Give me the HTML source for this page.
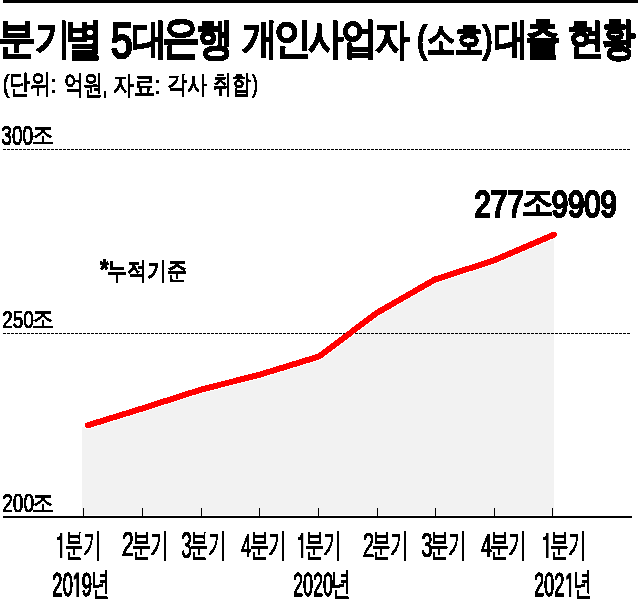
<!DOCTYPE html>
<html><head><meta charset="utf-8"><style>
html,body{margin:0;padding:0;background:#fff;width:638px;height:599px;overflow:hidden;position:relative}
span{display:block}
</style></head><body>
<svg width="638" height="599" style="position:absolute;left:0;top:0">
<rect x="3" y="0" width="635" height="3" fill="#000"/>
<polygon points="82,427.1 88,425.26 142,408.55 201,389.62 259,374.89 319,356.5 377,312.81 435,279.49 493,260.78 554,234.68 554,515 82,515" fill="#f2f2f2" shape-rendering="crispEdges"/>
<polyline points="88,425.26 142,408.55 201,389.62 259,374.89 319,356.5 377,312.81 435,279.49 493,260.78 554,234.68" fill="none" stroke="#fff" stroke-width="8" stroke-linecap="round" stroke-linejoin="round" shape-rendering="crispEdges"/>
<line x1="3" y1="149.5" x2="631" y2="149.5" stroke="#000" stroke-width="1" stroke-dasharray="3 1"/>
<line x1="3" y1="333.5" x2="631" y2="333.5" stroke="#000" stroke-width="1" stroke-dasharray="3 1"/>
<rect x="3" y="516" width="629" height="2" fill="#000"/>
<rect x="83" y="508" width="1" height="8" fill="#000"/><rect x="142" y="508" width="1" height="8" fill="#000"/><rect x="201" y="508" width="1" height="8" fill="#000"/><rect x="259" y="508" width="1" height="8" fill="#000"/><rect x="318" y="508" width="1" height="8" fill="#000"/><rect x="377" y="508" width="1" height="8" fill="#000"/><rect x="435" y="508" width="1" height="8" fill="#000"/><rect x="494" y="508" width="1" height="8" fill="#000"/><rect x="552" y="508" width="1" height="8" fill="#000"/>
<g fill="#000">
<rect x="60" y="533" width="2.2" height="25"/><rect x="57" y="537" width="3" height="3"/><rect x="59" y="536" width="1" height="1"/>
<rect x="301" y="533" width="2.2" height="25"/><rect x="298" y="537" width="3" height="3"/><rect x="300" y="535" width="1" height="2"/>
<rect x="546" y="533" width="2.5" height="25"/><rect x="543" y="537" width="3" height="3"/><rect x="545" y="536" width="1" height="1"/>
<polygon points="73.8,576.5 76.4,572.5 79,572.5 79,597 76.4,597 76.4,578.5 73.8,580"/>
<polygon points="566.2,576.5 569,573 571.1,573 571.1,597 569,597 569,578.5 566.2,580"/>
</g>
<polyline points="88,425.26 142,408.55 201,389.62 259,374.89 319,356.5 377,312.81 435,279.49 493,260.78 554,234.68" fill="none" stroke="#ff0000" stroke-width="6" stroke-linecap="round" stroke-linejoin="round" shape-rendering="crispEdges"/>
</svg>
<svg width="0" height="0" style="position:absolute"><filter id="crisp" x="0" y="0" width="100%" height="100%"><feComponentTransfer><feFuncA type="discrete" tableValues="0 1"/></feComponentTransfer></filter></svg>
<div style="position:absolute;left:0;top:0;width:638px;height:599px;filter:url(#crisp)">
<span style="position:absolute;left:0;top:0;font-family:'Liberation Sans', sans-serif;font-size:43.37px;font-weight:400;line-height:1;white-space:nowrap;color:#000;-webkit-text-stroke:2.6px #000;transform-origin:0 0;transform:matrix(0.8641,0,0,0.9900,-1.73,17.03)">분</span>
<span style="position:absolute;left:0;top:0;font-family:'Liberation Sans', sans-serif;font-size:42.8px;font-weight:400;line-height:1;white-space:nowrap;color:#000;-webkit-text-stroke:2.6px #000;transform-origin:0 0;transform:matrix(0.8314,0,0,0.9748,34.51,18.05)">기</span>
<span style="position:absolute;left:0;top:0;font-family:'Liberation Sans', sans-serif;font-size:43.97px;font-weight:400;line-height:1;white-space:nowrap;color:#000;-webkit-text-stroke:2.6px #000;transform-origin:0 0;transform:matrix(0.8528,0,0,1.0024,65.19,16.99)">별</span>
<span style="position:absolute;left:0;top:0;font-family:'Liberation Sans', sans-serif;font-size:48.49px;font-weight:400;line-height:1;white-space:nowrap;color:#000;-webkit-text-stroke:2.6px #000;transform-origin:0 0;transform:matrix(0.8062,0,0,1.0240,111.00,15.99)">5</span>
<span style="position:absolute;left:0;top:0;font-family:'Liberation Sans', sans-serif;font-size:42.97px;font-weight:400;line-height:1;white-space:nowrap;color:#000;-webkit-text-stroke:2.6px #000;transform-origin:0 0;transform:matrix(0.8108,0,0,0.9786,132.19,17.84)">대</span>
<span style="position:absolute;left:0;top:0;font-family:'Liberation Sans', sans-serif;font-size:46.18px;font-weight:400;line-height:1;white-space:nowrap;color:#000;-webkit-text-stroke:2.6px #000;transform-origin:0 0;transform:matrix(0.8305,0,0,1.0039,161.90,13.38)">은</span>
<span style="position:absolute;left:0;top:0;font-family:'Liberation Sans', sans-serif;font-size:43.91px;font-weight:400;line-height:1;white-space:nowrap;color:#000;-webkit-text-stroke:2.6px #000;transform-origin:0 0;transform:matrix(0.8284,0,0,1.0000,197.21,16.52)">행</span>
<span style="position:absolute;left:0;top:0;font-family:'Liberation Sans', sans-serif;font-size:43.11px;font-weight:400;line-height:1;white-space:nowrap;color:#000;-webkit-text-stroke:2.6px #000;transform-origin:0 0;transform:matrix(0.8342,0,0,0.9819,242.42,17.62)">개</span>
<span style="position:absolute;left:0;top:0;font-family:'Liberation Sans', sans-serif;font-size:43.26px;font-weight:400;line-height:1;white-space:nowrap;color:#000;-webkit-text-stroke:2.6px #000;transform-origin:0 0;transform:matrix(0.8937,0,0,0.9863,273.47,17.75)">인</span>
<span style="position:absolute;left:0;top:0;font-family:'Liberation Sans', sans-serif;font-size:42.78px;font-weight:400;line-height:1;white-space:nowrap;color:#000;-webkit-text-stroke:2.6px #000;transform-origin:0 0;transform:matrix(0.8214,0,0,0.9743,308.00,17.59)">사</span>
<span style="position:absolute;left:0;top:0;font-family:'Liberation Sans', sans-serif;font-size:43.03px;font-weight:400;line-height:1;white-space:nowrap;color:#000;-webkit-text-stroke:2.6px #000;transform-origin:0 0;transform:matrix(0.8561,0,0,0.9800,341.13,17.16)">업</span>
<span style="position:absolute;left:0;top:0;font-family:'Liberation Sans', sans-serif;font-size:43.39px;font-weight:400;line-height:1;white-space:nowrap;color:#000;-webkit-text-stroke:2.6px #000;transform-origin:0 0;transform:matrix(0.8038,0,0,0.9881,375.34,18.02)">자</span>
<span style="position:absolute;left:0;top:0;font-family:'Liberation Sans', sans-serif;font-size:43.07px;font-weight:400;line-height:1;white-space:nowrap;color:#000;-webkit-text-stroke:2.6px #000;transform-origin:0 0;transform:matrix(0.8000,0,0,0.9810,493.50,17.64)">대</span>
<span style="position:absolute;left:0;top:0;font-family:'Liberation Sans', sans-serif;font-size:43.78px;font-weight:400;line-height:1;white-space:nowrap;color:#000;-webkit-text-stroke:2.6px #000;transform-origin:0 0;transform:matrix(0.8000,0,0,0.9971,525.40,17.01)">출</span>
<span style="position:absolute;left:0;top:0;font-family:'Liberation Sans', sans-serif;font-size:42.85px;font-weight:400;line-height:1;white-space:nowrap;color:#000;-webkit-text-stroke:2.6px #000;transform-origin:0 0;transform:matrix(0.8692,0,0,0.9771,567.10,17.43)">현</span>
<span style="position:absolute;left:0;top:0;font-family:'Liberation Sans', sans-serif;font-size:44.95px;font-weight:400;line-height:1;white-space:nowrap;color:#000;-webkit-text-stroke:2.6px #000;transform-origin:0 0;transform:matrix(0.7432,0,0,1.0000,602.36,16.60)">황</span>
<span style="position:absolute;left:0;top:0;font-family:'Liberation Sans', sans-serif;font-size:37.0px;font-weight:400;line-height:1;white-space:nowrap;color:#000;-webkit-text-stroke:2.6px #000;transform-origin:0 0;transform:matrix(0.7629,0,0,1.0000,417.24,21.00)">(소호)</span>
<span style="position:absolute;left:0;top:0;font-family:'Liberation Sans', sans-serif;font-size:25.8px;font-weight:400;line-height:1;white-space:nowrap;color:#000;-webkit-text-stroke:1.0px #000;transform-origin:0 0;transform:matrix(0.7932,0,0,1.0277,2.65,71.25)">(단위:</span>
<span style="position:absolute;left:0;top:0;font-family:'Liberation Sans', sans-serif;font-size:26.8px;font-weight:400;line-height:1;white-space:nowrap;color:#000;-webkit-text-stroke:1.0px #000;transform-origin:0 0;transform:matrix(0.7179,0,0,0.9938,63.58,72.33)">억원,</span>
<span style="position:absolute;left:0;top:0;font-family:'Liberation Sans', sans-serif;font-size:24.81px;font-weight:400;line-height:1;white-space:nowrap;color:#000;-webkit-text-stroke:1.0px #000;transform-origin:0 0;transform:matrix(0.8385,0,0,1.0400,112.60,73.12)">자료:</span>
<span style="position:absolute;left:0;top:0;font-family:'Liberation Sans', sans-serif;font-size:24.18px;font-weight:400;line-height:1;white-space:nowrap;color:#000;-webkit-text-stroke:1.0px #000;transform-origin:0 0;transform:matrix(0.8340,0,0,1.0139,167.13,73.15)">각사</span>
<span style="position:absolute;left:0;top:0;font-family:'Liberation Sans', sans-serif;font-size:25.58px;font-weight:400;line-height:1;white-space:nowrap;color:#000;-webkit-text-stroke:1.0px #000;transform-origin:0 0;transform:matrix(0.7422,0,0,1.0188,213.14,71.39)">취합)</span>
<span style="position:absolute;left:0;top:0;font-family:'Liberation Sans', sans-serif;font-size:27.64px;font-weight:400;line-height:1;white-space:nowrap;color:#000;-webkit-text-stroke:1.0px #000;transform-origin:0 0;transform:matrix(0.6933,0,0,1.0100,1.31,121.36)">300</span>
<span style="position:absolute;left:0;top:0;font-family:'Liberation Sans', sans-serif;font-size:25.02px;font-weight:400;line-height:1;white-space:nowrap;color:#000;-webkit-text-stroke:1.0px #000;transform-origin:0 0;transform:matrix(0.8713,0,0,0.9579,32.19,123.07)">조</span>
<span style="position:absolute;left:0;top:0;font-family:'Liberation Sans', sans-serif;font-size:24.7px;font-weight:400;line-height:1;white-space:nowrap;color:#000;-webkit-text-stroke:1.0px #000;transform-origin:0 0;transform:matrix(0.7700,0,0,1.0000,2.23,308.00)">250</span>
<span style="position:absolute;left:0;top:0;font-family:'Liberation Sans', sans-serif;font-size:25.03px;font-weight:400;line-height:1;white-space:nowrap;color:#000;-webkit-text-stroke:1.0px #000;transform-origin:0 0;transform:matrix(0.8713,0,0,0.9579,32.19,307.07)">조</span>
<span style="position:absolute;left:0;top:0;font-family:'Liberation Sans', sans-serif;font-size:26.0px;font-weight:400;line-height:1;white-space:nowrap;color:#000;-webkit-text-stroke:1.0px #000;transform-origin:0 0;transform:matrix(0.7333,0,0,1.0000,2.27,490.00)">200</span>
<span style="position:absolute;left:0;top:0;font-family:'Liberation Sans', sans-serif;font-size:25.03px;font-weight:400;line-height:1;white-space:nowrap;color:#000;-webkit-text-stroke:1.0px #000;transform-origin:0 0;transform:matrix(0.8713,0,0,0.9579,32.19,491.07)">조</span>
<span style="position:absolute;left:0;top:0;font-family:'Liberation Sans', sans-serif;font-size:28.8px;font-weight:700;line-height:1;white-space:nowrap;color:#000;-webkit-text-stroke:1.0px #000;transform-origin:0 0;transform:matrix(0.7500,0,0,1.0000,100.00,255.00)">*</span>
<span style="position:absolute;left:0;top:0;font-family:'Liberation Sans', sans-serif;font-size:24.96px;font-weight:400;line-height:1;white-space:nowrap;color:#000;-webkit-text-stroke:1.4px #000;transform-origin:0 0;transform:matrix(0.7959,0,0,0.9600,107.20,259.04)">누적기준</span>
<span style="position:absolute;left:0;top:0;font-family:'Liberation Sans', sans-serif;font-size:34.71px;font-weight:400;line-height:1;white-space:nowrap;color:#000;-webkit-text-stroke:2.4px #000;transform-origin:0 0;transform:matrix(0.8571,0,0,1.0385,474.14,186.85)">277</span>
<span style="position:absolute;left:0;top:0;font-family:'Liberation Sans', sans-serif;font-size:33.41px;font-weight:400;line-height:1;white-space:nowrap;color:#000;-webkit-text-stroke:2.0px #000;transform-origin:0 0;transform:matrix(0.9484,0,0,1.0208,522.05,185.88)">조</span>
<span style="position:absolute;left:0;top:0;font-family:'Liberation Sans', sans-serif;font-size:34.71px;font-weight:400;line-height:1;white-space:nowrap;color:#000;-webkit-text-stroke:2.4px #000;transform-origin:0 0;transform:matrix(0.8416,0,0,1.0385,551.70,186.85)">9909</span>
<span style="position:absolute;left:0;top:0;font-family:'Liberation Sans', sans-serif;font-size:33.0px;font-weight:400;line-height:1;white-space:nowrap;color:#000;-webkit-text-stroke:0.9px #000;transform-origin:0 0;transform:matrix(0.5533,0,0,1.0000,64.69,528.00)">분기</span>
<span style="position:absolute;left:0;top:0;font-family:'Liberation Sans', sans-serif;font-size:33.0px;font-weight:400;line-height:1;white-space:nowrap;color:#000;-webkit-text-stroke:0.9px #000;transform-origin:0 0;transform:matrix(0.5733,0,0,1.0000,131.57,528.00)">분기</span>
<span style="position:absolute;left:0;top:0;font-family:'Liberation Sans', sans-serif;font-size:35.09px;font-weight:400;line-height:1;white-space:nowrap;color:#000;-webkit-text-stroke:0.9px #000;transform-origin:0 0;transform:matrix(0.6188,0,0,1.0208,121.86,525.80)">2</span>
<span style="position:absolute;left:0;top:0;font-family:'Liberation Sans', sans-serif;font-size:33.0px;font-weight:400;line-height:1;white-space:nowrap;color:#000;-webkit-text-stroke:0.9px #000;transform-origin:0 0;transform:matrix(0.5533,0,0,1.0000,189.69,528.00)">분기</span>
<span style="position:absolute;left:0;top:0;font-family:'Liberation Sans', sans-serif;font-size:37.94px;font-weight:400;line-height:1;white-space:nowrap;color:#000;-webkit-text-stroke:0.9px #000;transform-origin:0 0;transform:matrix(0.5026,0,0,0.9793,181.28,528.02)">3</span>
<span style="position:absolute;left:0;top:0;font-family:'Liberation Sans', sans-serif;font-size:33.0px;font-weight:400;line-height:1;white-space:nowrap;color:#000;-webkit-text-stroke:0.9px #000;transform-origin:0 0;transform:matrix(0.5733,0,0,1.0000,249.57,528.00)">분기</span>
<span style="position:absolute;left:0;top:0;font-family:'Liberation Sans', sans-serif;font-size:33.28px;font-weight:400;line-height:1;white-space:nowrap;color:#000;-webkit-text-stroke:0.9px #000;transform-origin:0 0;transform:matrix(0.5528,0,0,1.0084,241.33,528.80)">4</span>
<span style="position:absolute;left:0;top:0;font-family:'Liberation Sans', sans-serif;font-size:33.0px;font-weight:400;line-height:1;white-space:nowrap;color:#000;-webkit-text-stroke:0.9px #000;transform-origin:0 0;transform:matrix(0.5692,0,0,1.0000,304.64,528.00)">분기</span>
<span style="position:absolute;left:0;top:0;font-family:'Liberation Sans', sans-serif;font-size:33.0px;font-weight:400;line-height:1;white-space:nowrap;color:#000;-webkit-text-stroke:0.9px #000;transform-origin:0 0;transform:matrix(0.5633,0,0,1.0000,371.91,528.00)">분기</span>
<span style="position:absolute;left:0;top:0;font-family:'Liberation Sans', sans-serif;font-size:34.71px;font-weight:400;line-height:1;white-space:nowrap;color:#000;-webkit-text-stroke:0.9px #000;transform-origin:0 0;transform:matrix(0.5929,0,0,1.0096,362.63,527.49)">2</span>
<span style="position:absolute;left:0;top:0;font-family:'Liberation Sans', sans-serif;font-size:33.0px;font-weight:400;line-height:1;white-space:nowrap;color:#000;-webkit-text-stroke:0.9px #000;transform-origin:0 0;transform:matrix(0.5633,0,0,1.0000,429.87,528.00)">분기</span>
<span style="position:absolute;left:0;top:0;font-family:'Liberation Sans', sans-serif;font-size:37.19px;font-weight:400;line-height:1;white-space:nowrap;color:#000;-webkit-text-stroke:0.9px #000;transform-origin:0 0;transform:matrix(0.5521,0,0,0.9600,421.29,527.22)">3</span>
<span style="position:absolute;left:0;top:0;font-family:'Liberation Sans', sans-serif;font-size:33.0px;font-weight:400;line-height:1;white-space:nowrap;color:#000;-webkit-text-stroke:0.9px #000;transform-origin:0 0;transform:matrix(0.5733,0,0,1.0000,489.57,528.00)">분기</span>
<span style="position:absolute;left:0;top:0;font-family:'Liberation Sans', sans-serif;font-size:32.76px;font-weight:400;line-height:1;white-space:nowrap;color:#000;-webkit-text-stroke:0.9px #000;transform-origin:0 0;transform:matrix(0.5944,0,0,0.9928,481.12,529.98)">4</span>
<span style="position:absolute;left:0;top:0;font-family:'Liberation Sans', sans-serif;font-size:33.0px;font-weight:400;line-height:1;white-space:nowrap;color:#000;-webkit-text-stroke:0.9px #000;transform-origin:0 0;transform:matrix(0.5633,0,0,1.0000,549.91,528.00)">분기</span>
<span style="position:absolute;left:0;top:0;font-family:'Liberation Sans', sans-serif;font-size:33.0px;font-weight:400;line-height:1;white-space:nowrap;color:#000;-webkit-text-stroke:1.3px #000;transform-origin:0 0;transform:matrix(0.5709,0,0,1.0000,51.93,568.00)">20</span>
<span style="position:absolute;left:0;top:0;font-family:'Liberation Sans', sans-serif;font-size:33.0px;font-weight:400;line-height:1;white-space:nowrap;color:#000;-webkit-text-stroke:1.3px #000;transform-origin:0 0;transform:matrix(0.5753,0,0,1.0000,81.42,568.00)">9</span>
<span style="position:absolute;left:0;top:0;font-family:'Liberation Sans', sans-serif;font-size:32.21px;font-weight:400;line-height:1;white-space:nowrap;color:#000;-webkit-text-stroke:0.9px #000;transform-origin:0 0;transform:matrix(0.5696,0,0,1.0097,91.38,568.20)">년</span>
<span style="position:absolute;left:0;top:0;font-family:'Liberation Sans', sans-serif;font-size:33.32px;font-weight:400;line-height:1;white-space:nowrap;color:#000;-webkit-text-stroke:1.3px #000;transform-origin:0 0;transform:matrix(0.5406,0,0,1.0096,292.98,568.20)">2020</span>
<span style="position:absolute;left:0;top:0;font-family:'Liberation Sans', sans-serif;font-size:32.21px;font-weight:400;line-height:1;white-space:nowrap;color:#000;-webkit-text-stroke:0.9px #000;transform-origin:0 0;transform:matrix(0.6072,0,0,1.0097,331.23,568.20)">년</span>
<span style="position:absolute;left:0;top:0;font-family:'Liberation Sans', sans-serif;font-size:33.0px;font-weight:400;line-height:1;white-space:nowrap;color:#000;-webkit-text-stroke:1.3px #000;transform-origin:0 0;transform:matrix(0.5574,0,0,1.0000,533.88,568.00)">202</span>
<span style="position:absolute;left:0;top:0;font-family:'Liberation Sans', sans-serif;font-size:32.21px;font-weight:400;line-height:1;white-space:nowrap;color:#000;-webkit-text-stroke:0.9px #000;transform-origin:0 0;transform:matrix(0.5828,0,0,1.0097,573.33,568.20)">년</span>
</div>
</body></html>
